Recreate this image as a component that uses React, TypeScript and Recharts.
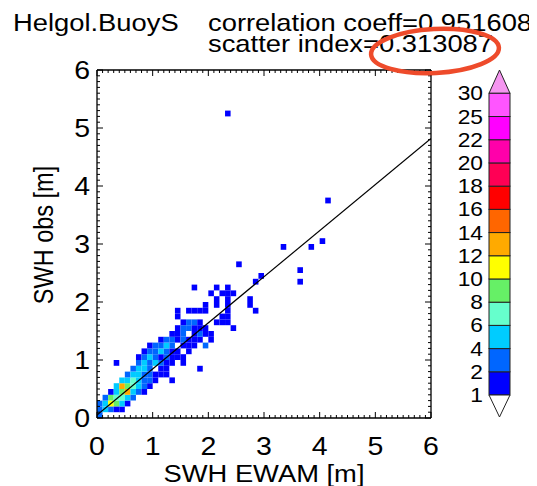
import React from 'react';
import { ComposedChart, XAxis, YAxis, ReferenceArea, Scatter } from 'recharts';

const FONT = '"Liberation Sans", Arial, Helvetica, sans-serif';
const SX = 1.14; // horizontal stretch of the reference lettering

// ---------- texts ----------
const stationName = 'Helgol.BuoyS';
const correlationText = 'correlation coeff=0.951608';
const scatterText = 'scatter index=0.313087';
const xAxisTitle = 'SWH EWAM [m]';
const yAxisTitle = 'SWH obs [m]';

// ---------- axes ----------
const axisDomain: [number, number] = [0, 6];
const majorTicks = [0, 1, 2, 3, 4, 5, 6];
const allTicks = Array.from({ length: 61 }, (_, k) => k / 10);

// ---------- colour scale ----------
const colorLevels = [1, 2, 4, 6, 8, 10, 12, 14, 16, 18, 20, 22, 25, 30];
const colorBands = [
  '#0000FF', '#0066FF', '#00CCFF', '#66FFCC', '#66F066', '#FFFF00', '#FFAA00',
  '#FF6600', '#FF0000', '#FF0055', '#FF00AA', '#FF00FF', '#FF55FF',
];
const overColor = '#F596F0';
const underColor = '#FFFFFF';

// ---------- regression line ----------
const fitLine = [{ x: 0, y: 0.05 }, { x: 6, y: 4.82 }];

// ---------- 2-D histogram (bin size 0.1 m): [xBin, yBin, count] ----------
const BIN = 0.1;
const coreCells: [number, number, number][] = [
  [0, 0, 3],
  [0, 1, 3], [1, 1, 5], [2, 1, 3], [3, 1, 1], [4, 1, 1],
  [0, 2, 2], [1, 2, 5], [2, 2, 11], [3, 2, 9], [4, 2, 5], [5, 2, 1],
  [1, 3, 3], [2, 3, 9], [3, 3, 7], [4, 3, 7], [5, 3, 5], [6, 3, 3],
  [2, 4, 1], [3, 4, 5], [4, 4, 9], [5, 4, 13], [6, 4, 5], [7, 4, 3], [8, 4, 1],
  [3, 5, 5], [4, 5, 13], [5, 5, 9], [6, 5, 7], [7, 5, 5], [8, 5, 3], [9, 5, 1],
  [4, 6, 5], [5, 6, 5], [6, 6, 7], [7, 6, 5], [8, 6, 3], [9, 6, 3], [10, 6, 1], [13, 6, 1],
  [5, 7, 3], [6, 7, 5], [7, 7, 5], [8, 7, 3], [9, 7, 3], [10, 7, 1], [11, 7, 1], [12, 7, 1],
  [6, 8, 3], [7, 8, 5], [8, 8, 5], [9, 8, 3], [11, 8, 1], [12, 8, 1], [18, 8, 1],
  [3, 9, 1], [7, 9, 3], [8, 9, 5], [9, 9, 3], [10, 9, 5], [11, 9, 3], [12, 9, 1], [13, 9, 1], [15, 9, 1],
];
const clusterCells: [number, number, number][] = [
  [7, 10, 1], [8, 10, 3], [9, 10, 5], [10, 10, 3], [11, 10, 1], [12, 10, 3], [13, 10, 1], [14, 10, 1], [15, 10, 1],
  [8, 11, 1], [9, 11, 3], [10, 11, 3], [11, 11, 5], [12, 11, 3], [13, 11, 1], [14, 11, 1], [16, 11, 1],
  [9, 12, 1], [10, 12, 3], [11, 12, 3], [12, 12, 5], [13, 12, 3], [15, 12, 1], [16, 12, 1], [17, 12, 1], [19, 12, 3],
  [11, 13, 1], [12, 13, 3], [13, 13, 3], [14, 13, 1], [15, 13, 3], [16, 13, 1], [17, 13, 1], [18, 13, 1], [20, 13, 1],
  [13, 14, 1], [14, 14, 1], [15, 14, 3], [17, 14, 1], [18, 14, 3], [19, 14, 1], [20, 14, 1],
  [14, 15, 1], [15, 15, 3], [16, 15, 3], [17, 15, 1], [18, 15, 1], [19, 15, 1], [24, 15, 1],
  [15, 16, 1], [16, 16, 3], [17, 16, 3], [18, 16, 1], [21, 16, 1], [22, 16, 1], [23, 16, 1],
  [14, 17, 1], [22, 17, 1], [23, 17, 1],
  [14, 18, 1], [16, 18, 1], [17, 18, 1], [18, 18, 1], [19, 18, 1], [23, 18, 1], [28, 18, 1],
  [19, 19, 1], [21, 19, 1], [23, 19, 1], [27, 19, 1],
  [21, 20, 1], [23, 20, 1], [27, 20, 1],
  [20, 21, 1], [22, 21, 1], [23, 21, 1], [24, 21, 1],
  [17, 22, 1], [21, 22, 1], [23, 22, 1],
];
const outlierCells: [number, number, number][] = [
  [28, 23, 1], [36, 23, 1], [29, 24, 1], [36, 25, 1], [25, 26, 1],
  [33, 29, 1], [38, 29, 1], [40, 30, 1], [41, 37, 1], [23, 52, 1],
];
const allCells = [...coreCells, ...clusterCells, ...outlierCells];

function cellColor(count: number): string {
  if (count < colorLevels[0]) return underColor;
  for (let k = 0; k < colorBands.length; k++) {
    if (count < colorLevels[k + 1]) return colorBands[k];
  }
  return overColor;
}

const isMajor = (v: number) => majorTicks.some((m) => Math.abs(m - v) < 1e-6);
const MAJOR_LEN = 6;
const MINOR_LEN = 3;
const TICK_FONT = 25;

const BottomTick = (p: any) => {
  const { x, y, payload } = p;
  const v = payload.value;
  const major = isMajor(v);
  return (
    <g>
      <line x1={x} y1={y} x2={x} y2={y - (major ? MAJOR_LEN : MINOR_LEN)} stroke="#000" strokeWidth={1} />
      {major && (
        <text transform={`translate(${x},${y + 37}) scale(${SX},1)`} textAnchor="middle"
          fontSize={TICK_FONT} fontFamily={FONT} fill="#000">{Math.round(v)}</text>
      )}
    </g>
  );
};
const TopTick = (p: any) => {
  const { x, y, payload } = p;
  const major = isMajor(payload.value);
  return <line x1={x} y1={y} x2={x} y2={y + (major ? MAJOR_LEN : MINOR_LEN)} stroke="#000" strokeWidth={1} />;
};
const LeftTick = (p: any) => {
  const { x, y, payload } = p;
  const v = payload.value;
  const major = isMajor(v);
  return (
    <g>
      <line x1={x} y1={y} x2={x + (major ? MAJOR_LEN : MINOR_LEN)} y2={y} stroke="#000" strokeWidth={1} />
      {major && (
        <text transform={`translate(${x - 7},${y + 9}) scale(${SX},1)`} textAnchor="end"
          fontSize={TICK_FONT} fontFamily={FONT} fill="#000">{Math.round(v)}</text>
      )}
    </g>
  );
};
const RightTick = (p: any) => {
  const { x, y, payload } = p;
  const major = isMajor(payload.value);
  return <line x1={x} y1={y} x2={x - (major ? MAJOR_LEN : MINOR_LEN)} y2={y} stroke="#000" strokeWidth={1} />;
};

const W = 529;
const H = 478;

// colour bar geometry (legend)
const CB_X = 481, CB_W = 21, CB_TOP = 85.3, CB_BOTTOM = 387, CB_TIP_TOP = 62, CB_TIP_BOTTOM = 409;
const CB_H = (CB_BOTTOM - CB_TOP) / colorBands.length;

const SText = ({ x, y, anchor = 'start', size = 24, children }: any) => (
  <text transform={`translate(${x},${y}) scale(${SX},1)`} textAnchor={anchor}
    fontSize={size} fontFamily={FONT} fill="#000">{children}</text>
);

const NoShape = () => <g />;

export default function App() {
  const axisLine = { stroke: '#000', strokeWidth: 1.3 };
  return (
    <div style={{ position: 'relative', width: W, height: H }}>
      <ComposedChart width={W} height={H} data={fitLine}
        margin={{ top: 52, right: 96, bottom: 0, left: 29 }}>
        <XAxis xAxisId="bottom" dataKey="x" type="number" domain={axisDomain} ticks={allTicks} interval={0}
          allowDataOverflow height={68} tickSize={0} tickMargin={0} tickLine={false}
          axisLine={axisLine} tick={BottomTick} />
        <XAxis xAxisId="top" dataKey="x" orientation="top" type="number" domain={axisDomain} ticks={allTicks}
          interval={0} allowDataOverflow height={10} tickSize={0} tickMargin={0} tickLine={false}
          axisLine={axisLine} tick={TopTick} />
        <YAxis yAxisId="left" dataKey="y" type="number" domain={axisDomain} ticks={allTicks} interval={0}
          allowDataOverflow width={60} tickSize={0} tickMargin={0} tickLine={false}
          axisLine={axisLine} tick={LeftTick} />
        <YAxis yAxisId="right" dataKey="y" orientation="right" type="number" domain={axisDomain} ticks={allTicks}
          interval={0} allowDataOverflow width={10} tickSize={0} tickMargin={0} tickLine={false}
          axisLine={axisLine} tick={RightTick} />
        {allCells.map(([i, j, c]) => (
          <ReferenceArea key={`${i}-${j}`} xAxisId="bottom" yAxisId="left"
            x1={i * BIN} x2={(i + 1) * BIN} y1={j * BIN} y2={(j + 1) * BIN}
            fill={cellColor(c)} fillOpacity={1} stroke="none" ifOverflow="visible" />
        ))}
        <Scatter xAxisId="bottom" yAxisId="left" data={fitLine} dataKey="y"
          line={{ stroke: '#000', strokeWidth: 1.2 }} shape={NoShape}
          isAnimationActive={false} />
      </ComposedChart>
      <svg width={W} height={H} style={{ position: 'absolute', left: 0, top: 0, pointerEvents: 'none' }}>
        <SText x={5} y={23}>{stationName}</SText>
        <SText x={200} y={23}>{correlationText}</SText>
        <SText x={200} y={44}>{scatterText}</SText>
        <SText x={256} y={474} anchor="middle">{xAxisTitle}</SText>
        <text transform={`translate(45,227) scale(${SX},1) rotate(-90)`} textAnchor="middle"
          fontSize={23.5} fontFamily={FONT} fill="#000">{yAxisTitle}</text>
        {/* colour bar */}
        <polygon points={`${CB_X},${CB_TOP} ${CB_X + CB_W},${CB_TOP} ${CB_X + CB_W / 2},${CB_TIP_TOP}`}
          fill={overColor} stroke="#222" strokeWidth={1} />
        {colorBands.map((c, k) => (
          <rect key={c} x={CB_X} y={CB_BOTTOM - (k + 1) * CB_H} width={CB_W} height={CB_H}
            fill={c} stroke="#222" strokeWidth={1} />
        ))}
        <polygon points={`${CB_X},${CB_BOTTOM} ${CB_X + CB_W},${CB_BOTTOM} ${CB_X + CB_W / 2},${CB_TIP_BOTTOM}`}
          fill={underColor} stroke="#222" strokeWidth={1} />
        {colorLevels.map((lv, k) => (
          <SText key={lv} x={475} y={CB_BOTTOM - k * CB_H + 7} anchor="end" size={20}>{lv}</SText>
        ))}
        {/* red annotation ellipse */}
        <ellipse cx={427} cy={43} rx={64} ry={22} transform="rotate(-3 427 43)"
          fill="none" stroke="#EE4B2B" strokeWidth={4.5} />
      </svg>
    </div>
  );
}
